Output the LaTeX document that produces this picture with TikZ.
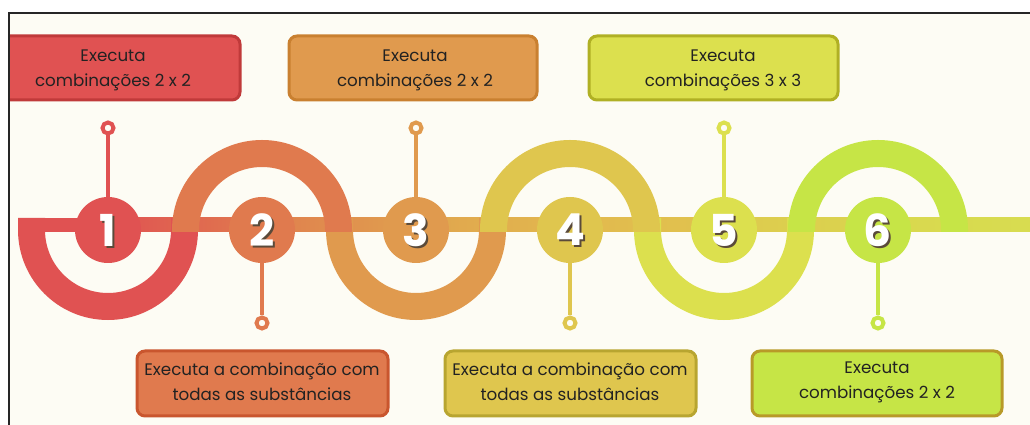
\documentclass[tikz,border=0pt]{standalone}
\usepackage{fontspec}
\setmainfont{Poppins}
\definecolor{bg}{HTML}{FDFCF4}
\definecolor{c1}{HTML}{E05252}
\definecolor{c2}{HTML}{E07A4E}
\definecolor{c3}{HTML}{E09A4E}
\definecolor{c4}{HTML}{DFC64E}
\definecolor{c5}{HTML}{DCE04E}
\definecolor{c6}{HTML}{C6E546}
\definecolor{e1}{HTML}{C03A3A}
\definecolor{e2}{HTML}{C9562E}
\definecolor{e3}{HTML}{C98030}
\definecolor{e4}{HTML}{B8A530}
\definecolor{e5}{HTML}{B0B024}
\definecolor{e6}{HTML}{B89A28}
\definecolor{g1}{HTML}{E07E4E}
\definecolor{g2}{HTML}{E0A04E}
\definecolor{g3}{HTML}{E0A44E}
\definecolor{g4}{HTML}{E2B84E}
\definecolor{g5}{HTML}{E0C44E}
\definecolor{g6}{HTML}{DECA4E}
\definecolor{g7}{HTML}{DAD44E}
\definecolor{g8}{HTML}{D9D84E}
\definecolor{g9}{HTML}{D8DC50}
\definecolor{txt}{HTML}{222222}
\definecolor{shad}{HTML}{5A4A3A}
\tikzset{
  infobox/.style={rounded corners=8pt, line width=3pt, minimum height=64pt, inner sep=0pt},
  infotext/.style={align=center, text=txt, font=\fontsize{16.7}{25}\selectfont, inner sep=0pt},
  stepcirc/.style={circle, minimum size=66pt, inner sep=0pt},
  ring/.style={circle, minimum size=11pt, inner sep=0pt, line width=4pt, fill=bg},
  stem/.style={line width=4pt},
  numtxt/.style={font=\fontsize{44}{44}\selectfont\bfseries, inner sep=0pt},
  arcband/.style={line width=27pt},
}
\begin{document}
\begin{tikzpicture}[x=1pt,y=1pt]
\useasboundingbox (0,0) rectangle (1030,425);
\fill[white] (0,0) rectangle (1030,425);
\fill[bg] (9,0) rectangle (1030,412);
\draw[line width=1.8pt, black!85] (1030,412) -- (9,412) -- (9,0);

% bar
\fill[c1] (18,193) rectangle (108,207);
\shade[left color=c1, right color=c2] (108,193) rectangle (262,207);
\shade[left color=g1, right color=g2] (262,193) rectangle (416,207);
\shade[left color=g3, right color=g4] (416,193) rectangle (570,207);
\shade[left color=g4, right color=g5] (570,193) rectangle (724,207);
\shade[left color=g6, right color=g7] (724,193) rectangle (878,207);
\shade[left color=g8, right color=g9] (878,193) rectangle (1030,207);

% lower arcs
\foreach \x/\c in {108/c1, 416/c3, 724/c5}{
  \draw[arcband, \c] (\x-76.5,207) -- (\x-76.5,195) arc[start angle=180, end angle=360, radius=76.5pt] -- (\x+76.5,207);
}
% upper arcs
\foreach \x/\c in {262/c2, 570/c4, 878/c6}{
  \draw[arcband, \c] (\x-76.5,193) -- (\x-76.5,195) arc[start angle=180, end angle=0, radius=76.5pt] -- (\x+76.5,193);
}

% step circles, rings, stems
\foreach \i/\x/\c/\ry in {1/108/c1/297, 2/262/c2/102, 3/416/c3/297, 4/570/c4/102, 5/724/c5/297, 6/878/c6/102}{
  \node[stepcirc, fill=\c] (n\i) at (\x,195) {};
  \node[ring, draw=\c] (r\i) at (\x,\ry) {};
  \draw[stem, \c] (r\i) -- (n\i);
  \node[numtxt, text=shad] (s\i) at (\x+2,193) {\i};
  \node[numtxt, text=white] (d\i) at (\x,195) {\i};
}

% top boxes
\begin{scope}
\clip (10,0) rectangle (1030,411);
\node[infobox, fill=c1, draw=e1, minimum width=255pt] (b1) at (112.5,357) {};
\end{scope}
\node[infotext] (t1) at (113,355) {Executa\\combinações 2 x 2};
\node[infobox, fill=c3, draw=e3, minimum width=248pt] (b3) at (413,357) {};
\node[infotext] (t3) at (415,355) {Executa\\combinações 2 x 2};
\node[infobox, fill=c5, draw=e5, minimum width=249pt] (b5) at (713.5,357) {};
\node[infotext] (t5) at (723,355) {Executa\\combinações 3 x 3};

% bottom boxes
\node[infobox, fill=c2, draw=e2, minimum width=251pt, minimum height=65pt] (b2) at (262.5,41.5) {};
\node[infotext] (t2) at (262,43) {Executa a combinação com\\todas as substâncias};
\node[infobox, fill=c4, draw=e4, minimum width=251pt, minimum height=65pt] (b4) at (570.5,41.5) {};
\node[infotext] (t4) at (570,43) {Executa a combinação com\\todas as substâncias};
\node[infobox, fill=c6, draw=e6, minimum width=250pt, minimum height=65pt] (b6) at (877,41.5) {};
\node[infotext] (t6) at (877,43) {Executa\\combinações 2 x 2};
\end{tikzpicture}
\end{document}
